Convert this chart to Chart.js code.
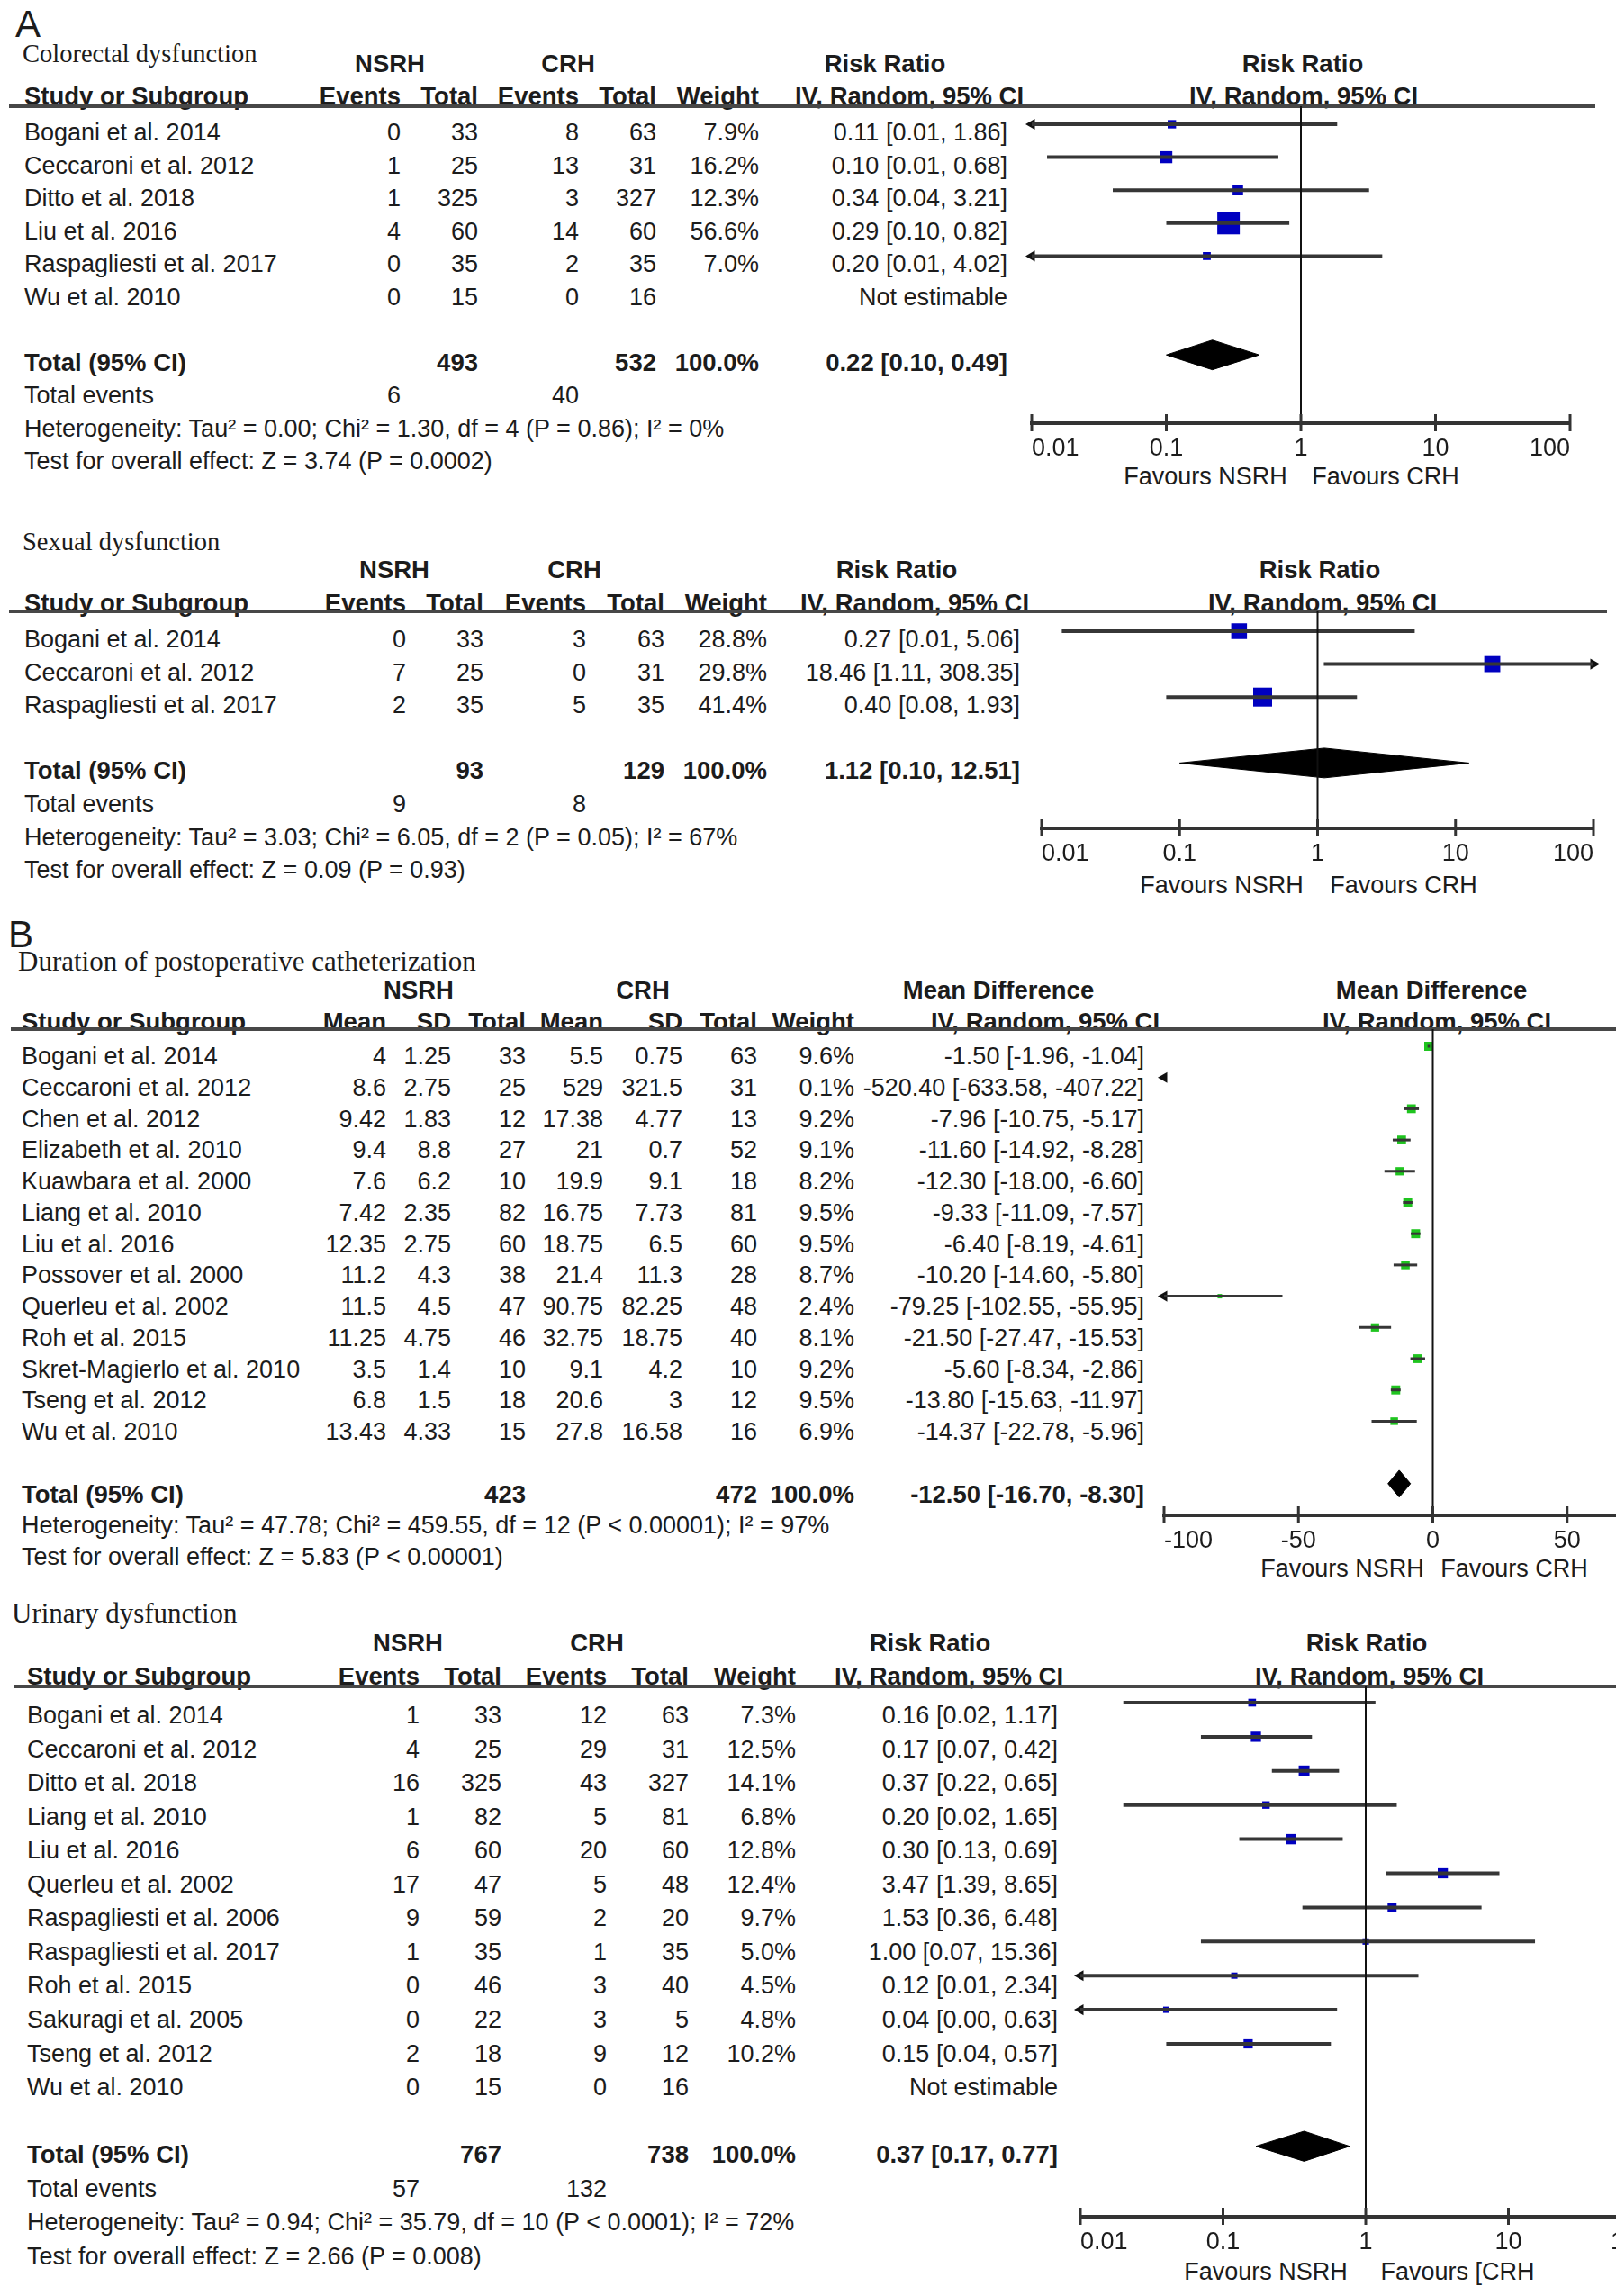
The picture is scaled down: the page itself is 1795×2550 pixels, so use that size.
<!DOCTYPE html>
<html>
<head>
<meta charset="utf-8">
<script src="https://cdn.jsdelivr.net/npm/chart.js@4.4.1/dist/chart.umd.min.js"></script>
<style>
  html, body { margin: 0; padding: 0; background: #fff; }
  body { width: 1795px; height: 2550px; position: relative; overflow: hidden;
         font-family: "Liberation Sans", Arial, sans-serif; color: #1c1c1c; }
  .t { position: absolute; white-space: nowrap; font-size: 27px; line-height: 1; }
  .b { font-weight: bold; font-size: 27.5px; }
  .serif { font-family: "Liberation Serif", "Times New Roman", serif; font-size: 28.5px; }
  .serif2 { font-family: "Liberation Serif", "Times New Roman", serif; font-size: 31px; }
  .big { font-size: 42px; }
  .rule { position: absolute; height: 4px; background: #474747; }
  canvas { position: absolute; }
</style>
</head>
<body>
<script>
// ---------- Colorectal dysfunction ----------
const crStudies = ["Bogani et al. 2014", "Ceccaroni et al. 2012", "Ditto et al. 2018", "Liu et al. 2016", "Raspagliesti et al. 2017", "Wu et al. 2010"];
const crNsrhEvents = [0, 1, 1, 4, 0, 0];
const crNsrhTotal = [33, 25, 325, 60, 35, 15];
const crCrhEvents = [8, 13, 3, 14, 2, 0];
const crCrhTotal = [63, 31, 327, 60, 35, 16];
const crWeight = [7.9, 16.2, 12.3, 56.6, 7.0, null];
const crRR = [0.11, 0.10, 0.34, 0.29, 0.20, null];
const crLow = [0.006, 0.013, 0.04, 0.10, 0.006, null];
const crHigh = [1.86, 0.68, 3.21, 0.82, 4.02, null];
const crTotals = [493, 532];
const crTotalEvents = [6, 40];
const crPooled = [0.22, 0.10, 0.49];
const crHet = "Heterogeneity: Tau\u00b2 = 0.00; Chi\u00b2 = 1.30, df = 4 (P = 0.86); I\u00b2 = 0%";
const crTest = "Test for overall effect: Z = 3.74 (P = 0.0002)";

// ---------- Sexual dysfunction ----------
const sxStudies = ["Bogani et al. 2014", "Ceccaroni et al. 2012", "Raspagliesti et al. 2017"];
const sxNsrhEvents = [0, 7, 2];
const sxNsrhTotal = [33, 25, 35];
const sxCrhEvents = [3, 0, 5];
const sxCrhTotal = [63, 31, 35];
const sxWeight = [28.8, 29.8, 41.4];
const sxRR = [0.27, 18.46, 0.40];
const sxLow = [0.014, 1.11, 0.08];
const sxHigh = [5.06, 308.35, 1.93];
const sxTotals = [93, 129];
const sxTotalEvents = [9, 8];
const sxPooled = [1.12, 0.10, 12.51];
const sxHet = "Heterogeneity: Tau\u00b2 = 3.03; Chi\u00b2 = 6.05, df = 2 (P = 0.05); I\u00b2 = 67%";
const sxTest = "Test for overall effect: Z = 0.09 (P = 0.93)";

// ---------- Duration of postoperative catheterization ----------
const caStudies = ["Bogani et al. 2014", "Ceccaroni et al. 2012", "Chen et al. 2012", "Elizabeth et al. 2010", "Kuawbara et al. 2000", "Liang et al. 2010", "Liu et al. 2016", "Possover et al. 2000", "Querleu et al. 2002", "Roh et al. 2015", "Skret-Magierlo et al. 2010", "Tseng et al. 2012", "Wu et al. 2010"];
const caNsrhMean = [4, 8.6, 9.42, 9.4, 7.6, 7.42, 12.35, 11.2, 11.5, 11.25, 3.5, 6.8, 13.43];
const caNsrhSD = [1.25, 2.75, 1.83, 8.8, 6.2, 2.35, 2.75, 4.3, 4.5, 4.75, 1.4, 1.5, 4.33];
const caNsrhTotal = [33, 25, 12, 27, 10, 82, 60, 38, 47, 46, 10, 18, 15];
const caCrhMean = [5.5, 529, 17.38, 21, 19.9, 16.75, 18.75, 21.4, 90.75, 32.75, 9.1, 20.6, 27.8];
const caCrhSD = [0.75, 321.5, 4.77, 0.7, 9.1, 7.73, 6.5, 11.3, 82.25, 18.75, 4.2, 3, 16.58];
const caCrhTotal = [63, 31, 13, 52, 18, 81, 60, 28, 48, 40, 10, 12, 16];
const caWeight = [9.6, 0.1, 9.2, 9.1, 8.2, 9.5, 9.5, 8.7, 2.4, 8.1, 9.2, 9.5, 6.9];
const caMD = [-1.50, -520.40, -7.96, -11.60, -12.30, -9.33, -6.40, -10.20, -79.25, -21.50, -5.60, -13.80, -14.37];
const caLow = [-1.96, -633.58, -10.75, -14.92, -18.00, -11.09, -8.19, -14.60, -102.55, -27.47, -8.34, -15.63, -22.78];
const caHigh = [-1.04, -407.22, -5.17, -8.28, -6.60, -7.57, -4.61, -5.80, -55.95, -15.53, -2.86, -11.97, -5.96];
const caTotals = [423, 472];
const caPooled = [-12.50, -16.70, -8.30];
const caHet = "Heterogeneity: Tau\u00b2 = 47.78; Chi\u00b2 = 459.55, df = 12 (P < 0.00001); I\u00b2 = 97%";
const caTest = "Test for overall effect: Z = 5.83 (P < 0.00001)";

// ---------- Urinary dysfunction ----------
const urStudies = ["Bogani et al. 2014", "Ceccaroni et al. 2012", "Ditto et al. 2018", "Liang et al. 2010", "Liu et al. 2016", "Querleu et al. 2002", "Raspagliesti et al. 2006", "Raspagliesti et al. 2017", "Roh et al. 2015", "Sakuragi et al. 2005", "Tseng et al. 2012", "Wu et al. 2010"];
const urNsrhEvents = [1, 4, 16, 1, 6, 17, 9, 1, 0, 0, 2, 0];
const urNsrhTotal = [33, 25, 325, 82, 60, 47, 59, 35, 46, 22, 18, 15];
const urCrhEvents = [12, 29, 43, 5, 20, 5, 2, 1, 3, 3, 9, 0];
const urCrhTotal = [63, 31, 327, 81, 60, 48, 20, 35, 40, 5, 12, 16];
const urWeight = [7.3, 12.5, 14.1, 6.8, 12.8, 12.4, 9.7, 5.0, 4.5, 4.8, 10.2, null];
const urRR = [0.16, 0.17, 0.37, 0.20, 0.30, 3.47, 1.53, 1.00, 0.12, 0.04, 0.15, null];
const urLow = [0.02, 0.07, 0.22, 0.02, 0.13, 1.39, 0.36, 0.07, 0.006, 0.002, 0.04, null];
const urHigh = [1.17, 0.42, 0.65, 1.65, 0.69, 8.65, 6.48, 15.36, 2.34, 0.63, 0.57, null];
const urTotals = [767, 738];
const urTotalEvents = [57, 132];
const urPooled = [0.37, 0.17, 0.77];
const urHet = "Heterogeneity: Tau\u00b2 = 0.94; Chi\u00b2 = 35.79, df = 10 (P < 0.0001); I\u00b2 = 72%";
const urTest = "Test for overall effect: Z = 2.66 (P = 0.008)";

const logTicks = [0.01, 0.1, 1, 10, 100];
const mdTicks = [-100, -50, 0, 50, 100];

// ---------- helpers ----------
function put(x, y, s, align, cls) {
  const d = document.createElement("div");
  d.className = "t " + (cls || "");
  d.textContent = s;
  d.style.left = x + "px";
  d.style.top = y + "px";
  const tx = align === "r" ? "-100%" : align === "c" ? "-50%" : "0";
  d.style.transform = "translate(" + tx + ",-50%)";
  document.body.appendChild(d);
}

function rule(x0, x1, y) {
  const d = document.createElement("div");
  d.className = "rule";
  d.style.left = x0 + "px";
  d.style.width = (x1 - x0) + "px";
  d.style.top = (y - 2) + "px";
  document.body.appendChild(d);
}

function est(e, l, h) {
  return e.toFixed(2) + " [" + l.toFixed(2) + ", " + h.toFixed(2) + "]";
}

// ticks that cross the axis line, placed with the scale itself
const tickMarks = {
  id: "tickMarks",
  afterDraw(chart) {
    const s = chart.scales.x, ctx = chart.ctx;
    ctx.save();
    ctx.strokeStyle = "#333";
    ctx.lineWidth = 3;
    s.ticks.forEach(t => {
      const px = s.getPixelForValue(t.value);
      ctx.beginPath();
      ctx.moveTo(px, s.top - 10);
      ctx.lineTo(px, s.top + 9);
      ctx.stroke();
    });
    ctx.restore();
  }
};

function header(L, heads) {
  put(L.titleX, L.titleY, L.title, "l", L.titleCls);
  put(L.nsrhC, L.groupY, "NSRH", "c", "b");
  put(L.crhC, L.groupY, "CRH", "c", "b");
  put(L.estHeadC, L.groupY, L.measure, "c", "b");
  put(L.plotHeadC, L.groupY, L.measure, "c", "b");
  put(L.studyX, L.headY, "Study or Subgroup", "l", "b");
  heads.forEach((h, j) => put(L.cols[j], L.headY, h, "r", "b"));
  put(L.ivC, L.headY, "IV, Random, 95% CI", "c", "b");
  put(L.plotIvC, L.headY, "IV, Random, 95% CI", "c", "b");
  rule(L.ruleX0, L.ruleX1, L.ruleY);
  put(L.favNC, L.favY, "Favours NSRH", "c");
  put(L.favCC, L.favY, L.favC, "c");
}

function dichTable(L, D) {
  header(L, ["Events", "Total", "Events", "Total", "Weight"]);
  D.studies.forEach((s, i) => {
    const y = L.textY0 + i * L.step;
    put(L.studyX, y, s);
    put(L.cols[0], y, String(D.e1[i]), "r");
    put(L.cols[1], y, String(D.n1[i]), "r");
    put(L.cols[2], y, String(D.e2[i]), "r");
    put(L.cols[3], y, String(D.n2[i]), "r");
    if (D.w[i] != null) put(L.cols[4], y, D.w[i].toFixed(1) + "%", "r");
    put(L.estX, y, D.est[i] == null ? "Not estimable" : est(D.est[i], D.lo[i], D.hi[i]), "r");
  });
  const n = D.studies.length;
  const yT = L.textY0 + (n + 1) * L.step;
  put(L.studyX, yT, "Total (95% CI)", "l", "b");
  put(L.cols[1], yT, String(D.totals[0]), "r", "b");
  put(L.cols[3], yT, String(D.totals[1]), "r", "b");
  put(L.cols[4], yT, "100.0%", "r", "b");
  put(L.estX, yT, est(D.pooled[0], D.pooled[1], D.pooled[2]), "r", "b");
  const yE = yT + L.step;
  put(L.studyX, yE, "Total events");
  put(L.cols[0], yE, String(D.events[0]), "r");
  put(L.cols[2], yE, String(D.events[1]), "r");
  put(L.studyX, yE + L.step, D.het);
  put(L.studyX, yE + 2 * L.step, D.test);
}

function contTable(L, D) {
  header(L, ["Mean", "SD", "Total", "Mean", "SD", "Total", "Weight"]);
  D.studies.forEach((s, i) => {
    const y = L.textY0 + i * L.step;
    put(L.studyX, y, s);
    [D.m1, D.sd1, D.n1, D.m2, D.sd2, D.n2].forEach((arr, j) => put(L.cols[j], y, String(arr[i]), "r"));
    put(L.cols[6], y, D.w[i].toFixed(1) + "%", "r");
    put(L.estX, y, est(D.est[i], D.lo[i], D.hi[i]), "r");
  });
  const n = D.studies.length;
  const yT = L.textY0 + (n + 1) * L.step;
  put(L.studyX, yT, "Total (95% CI)", "l", "b");
  put(L.cols[2], yT, String(D.totals[0]), "r", "b");
  put(L.cols[5], yT, String(D.totals[1]), "r", "b");
  put(L.cols[6], yT, "100.0%", "r", "b");
  put(L.estX, yT, est(D.pooled[0], D.pooled[1], D.pooled[2]), "r", "b");
  put(L.studyX, yT + L.step, D.het);
  put(L.studyX, yT + 2 * L.step, D.test);
}

function forest(L, C, D) {
  const pad = 40, axisH = 70;
  const cv = document.createElement("canvas");
  const w = Math.round(C.x1 - C.x0) + 2 * pad;
  const h = (C.axisY - L.ruleY) + axisH;
  cv.width = w; cv.height = h;
  cv.style.left = (C.x0 - pad) + "px";
  cv.style.top = L.ruleY + "px";
  cv.style.width = w + "px";
  cv.style.height = h + "px";
  document.body.appendChild(cv);

  const yMin = (L.ruleY - C.markY0) / C.mstep;
  const yMax = (C.axisY - C.markY0) / C.mstep;
  const n = D.est.length;
  const wMax = Math.max(...D.w.filter(v => v != null));

  const sets = [];
  sets.push({ type: "line", data: [{ x: C.ref, y: yMin }, { x: C.ref, y: yMax }],
    borderColor: "#111", borderWidth: 2, pointRadius: 0, clip: false });

  const pts = [], radii = [], arrows = [], rots = [];
  for (let i = 0; i < n; i++) {
    if (D.est[i] == null) continue;
    const lo = Math.max(D.lo[i], C.xMin), hi = Math.min(D.hi[i], C.xMax);
    if (hi > lo) {
      sets.push({ type: "line", data: [{ x: lo, y: i }, { x: hi, y: i }],
        borderColor: "#363636", borderWidth: C.lw, pointRadius: 0, clip: false });
    }
    pts.push({ x: D.est[i], y: i });
    radii.push(Math.max(C.sqMin, C.sqMax * Math.sqrt(D.w[i] / wMax)) / Math.SQRT2);
    if (D.lo[i] < C.xMin) { arrows.push({ x: C.xMin, y: i }); rots.push(270); }
    if (D.hi[i] > C.xMax) { arrows.push({ x: C.xMax, y: i }); rots.push(90); }
  }
  sets.push({ type: "scatter", data: pts, pointStyle: "rect", pointRadius: radii,
    backgroundColor: C.color, borderWidth: 0 });
  sets.push({ type: "scatter", data: arrows, pointStyle: "triangle", pointRadius: 7,
    pointRotation: rots, backgroundColor: "#111", borderWidth: 0, clip: false });

  const k = n + 1, dh = C.dh;
  sets.push({ type: "line",
    data: [{ x: D.pooled[1], y: k }, { x: D.pooled[0], y: k - dh }, { x: D.pooled[2], y: k },
           { x: D.pooled[0], y: k + dh }, { x: D.pooled[1], y: k }],
    fill: "shape", backgroundColor: "#000", borderColor: "#000", borderWidth: 1,
    pointRadius: 0, tension: 0, clip: false });

  new Chart(cv, {
    type: "line",
    data: { datasets: sets },
    plugins: [tickMarks],
    options: {
      responsive: false,
      animation: false,
      events: [],
      layout: { autoPadding: false, padding: { left: pad, right: pad, top: 0, bottom: 0 } },
      plugins: { legend: { display: false }, tooltip: { enabled: false } },
      scales: {
        x: {
          type: C.log ? "logarithmic" : "linear",
          position: "bottom",
          min: C.xMin,
          max: C.xMax,
          afterBuildTicks: s => { s.ticks = C.ticks.map(v => ({ value: v })); },
          afterFit: s => { s.height = axisH; },
          grid: { drawOnChartArea: false, drawTicks: false },
          border: { display: true, color: "#333", width: 4 },
          ticks: {
            align: "inner", padding: 12, autoSkip: false, maxRotation: 0,
            color: "#1c1c1c",
            font: { family: "Liberation Sans", size: 27 },
            callback: v => String(v)
          }
        },
        y: { type: "linear", reverse: true, min: yMin, max: yMax, display: false }
      }
    }
  });
}

// ---------- panel letters ----------
put(17, 27, "A", "l", "big");
put(9, 1038, "B", "l", "big");

// ---------- Colorectal ----------
const L1 = { title: "Colorectal dysfunction", titleCls: "serif", measure: "Risk Ratio", titleX: 25, titleY: 60,
  groupY: 71, headY: 107, ruleY: 118, ruleX0: 10, ruleX1: 1772, studyX: 27,
  cols: [445, 531, 643, 729, 843], estX: 1119, nsrhC: 433, crhC: 631,
  estHeadC: 983, ivC: 1010, plotHeadC: 1447, plotIvC: 1448,
  textY0: 147, step: 36.5, favY: 529, favNC: 1339, favCC: 1539, favC: "Favours CRH" };
const D1 = { studies: crStudies, e1: crNsrhEvents, n1: crNsrhTotal, e2: crCrhEvents, n2: crCrhTotal,
  w: crWeight, est: crRR, lo: crLow, hi: crHigh, totals: crTotals, events: crTotalEvents,
  pooled: crPooled, het: crHet, test: crTest };
dichTable(L1, D1);
forest(L1, { x0: 1146, x1: 1744, axisY: 470, markY0: 138, mstep: 36.6, log: true,
  xMin: 0.01, xMax: 100, ticks: logTicks, ref: 1, color: "#0000c0", sqMax: 25, sqMin: 8,
  lw: 4, dh: 0.45 }, D1);

// ---------- Sexual ----------
const L2 = { title: "Sexual dysfunction", titleCls: "serif", measure: "Risk Ratio", titleX: 25, titleY: 602,
  groupY: 633, headY: 670, ruleY: 679, ruleX0: 10, ruleX1: 1785, studyX: 27,
  cols: [451, 537, 651, 738, 852], estX: 1133, nsrhC: 438, crhC: 638,
  estHeadC: 996, ivC: 1016, plotHeadC: 1466, plotIvC: 1469,
  textY0: 710, step: 36.6, favY: 983, favNC: 1357, favCC: 1559, favC: "Favours CRH" };
const D2 = { studies: sxStudies, e1: sxNsrhEvents, n1: sxNsrhTotal, e2: sxCrhEvents, n2: sxCrhTotal,
  w: sxWeight, est: sxRR, lo: sxLow, hi: sxHigh, totals: sxTotals, events: sxTotalEvents,
  pooled: sxPooled, het: sxHet, test: sxTest };
dichTable(L2, D2);
forest(L2, { x0: 1157, x1: 1770, axisY: 920, markY0: 701, mstep: 36.6, log: true,
  xMin: 0.01, xMax: 100, ticks: logTicks, ref: 1, color: "#0000c0", sqMax: 21, sqMin: 8,
  lw: 4, dh: 0.45 }, D2);

// ---------- Catheterization ----------
const L3 = { title: "Duration of postoperative catheterization", titleCls: "serif2", measure: "Mean Difference",
  titleX: 20, titleY: 1067, groupY: 1100, headY: 1135, ruleY: 1143, ruleX0: 12, ruleX1: 1795,
  studyX: 24, cols: [429, 501, 584, 670, 758, 841, 949], estX: 1271, nsrhC: 465, crhC: 714,
  estHeadC: 1109, ivC: 1161, plotHeadC: 1590, plotIvC: 1596,
  textY0: 1173, step: 34.75, favY: 1742, favNC: 1491, favCC: 1682, favC: "Favours CRH" };
const D3 = { studies: caStudies, m1: caNsrhMean, sd1: caNsrhSD, n1: caNsrhTotal,
  m2: caCrhMean, sd2: caCrhSD, n2: caCrhTotal, w: caWeight, est: caMD, lo: caLow, hi: caHigh,
  totals: caTotals, pooled: caPooled, het: caHet, test: caTest };
contTable(L3, D3);
forest(L3, { x0: 1293, x1: 1890, axisY: 1683, markY0: 1162, mstep: 34.7, log: false,
  xMin: -100, xMax: 100, ticks: mdTicks, ref: 0, color: "#1fc41f", sqMax: 10, sqMin: 5,
  lw: 3, dh: 0.43 }, D3);

// ---------- Urinary ----------
const L4 = { title: "Urinary dysfunction", titleCls: "serif2", measure: "Risk Ratio", titleX: 13, titleY: 1791,
  groupY: 1825, headY: 1862, ruleY: 1873, ruleX0: 15, ruleX1: 1795, studyX: 30,
  cols: [466, 557, 674, 765, 884], estX: 1175, nsrhC: 453, crhC: 663,
  estHeadC: 1033, ivC: 1054, plotHeadC: 1518, plotIvC: 1521,
  textY0: 1905, step: 37.55, favY: 2523, favNC: 1406, favCC: 1619, favC: "Favours [CRH" };
const D4 = { studies: urStudies, e1: urNsrhEvents, n1: urNsrhTotal, e2: urCrhEvents, n2: urCrhTotal,
  w: urWeight, est: urRR, lo: urLow, hi: urHigh, totals: urTotals, events: urTotalEvents,
  pooled: urPooled, het: urHet, test: urTest };
dichTable(L4, D4);
forest(L4, { x0: 1199.5, x1: 1833.5, axisY: 2462, markY0: 1891, mstep: 37.9, log: true,
  xMin: 0.01, xMax: 100, ticks: logTicks, ref: 1, color: "#0000c0", sqMax: 12, sqMin: 7,
  lw: 4, dh: 0.44 }, D4);
</script>
</body>
</html>
